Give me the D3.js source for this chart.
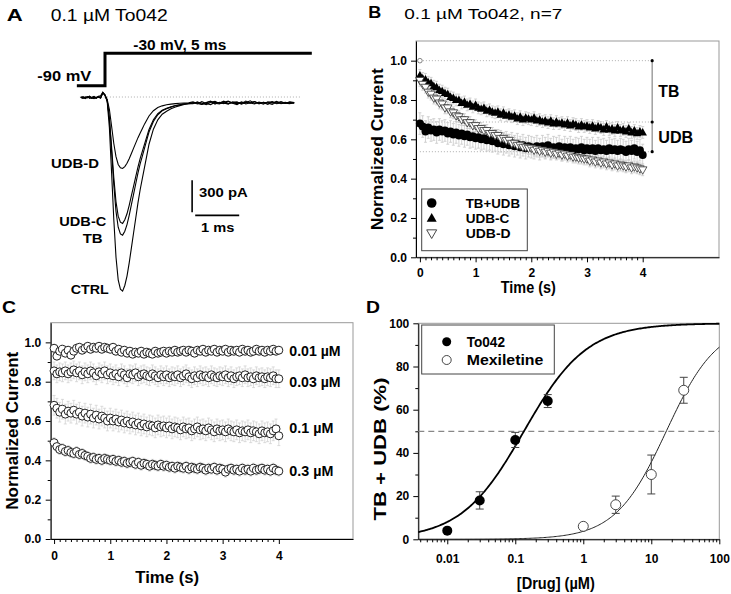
<!DOCTYPE html>
<html><head><meta charset="utf-8">
<script src="https://cdn.jsdelivr.net/npm/d3@7"></script>
<style>body{margin:0;background:#fff} svg{display:block} text{font-family:"Liberation Sans",Arial,sans-serif}</style>
</head><body><svg id="c" width="731" height="594"></svg>
<script>
// ================= DATA =================
// Panel A: current traces (time in ms, current in pA)
const traceTime = [-0.55,-0.5,-0.45,-0.4,-0.35,-0.3,-0.25,-0.2,-0.15,-0.1,-0.05,
 0,0.05,0.1,0.15,0.2,0.25,0.3,0.35,0.4,0.45,0.5,0.55,0.6,0.65,0.7,0.75,0.8,0.85,0.9,0.95,1.0,
 1.1,1.2,1.3,1.4,1.5,1.6,1.7,1.8,1.9,2.0,2.1,2.2,2.3,2.4,2.5,2.6,2.7,2.8,2.9,3.0,3.1,3.2,3.3,3.4,3.5,3.6,3.7,3.8,3.9,4.0,4.1,4.2,4.3];
const traceCTRL = [-8,4,-12,2,-6,-14,0,-10,6,12,45,
 20,-45,-290,-711,-1149,-1502,-1714,-1802,-1820,-1767,-1679,-1555,-1414,-1273,-1132,-990,-867,-761,-655,-549,-443,
 -302,-214,-161,-134,-111,-94,-81,-71,-64,
 -59,-48,-70,-52,-38,-66,-50,-62,-42,-58,-71,-47,-55,-36,-60,-52,-68,-45,-57,-40,-63,-54,-49,-58];
const traceTB = [-4,-12,2,-9,5,-7,-15,-2,3,-6,40,
 18,-35,-211,-511,-824,-1072,-1221,-1283,-1295,-1258,-1196,-1109,-1010,-911,-811,-712,-625,-551,-477,-402,-328,
 -229,-167,-129,-111,-95,-82,-74,-66,-61,
 -52,-65,-44,-60,-71,-49,-57,-39,-62,-54,-46,-68,-51,-59,-43,-64,-50,-56,-70,-47,-55,-61,-45,-53];
const traceUDBC = [2,-10,-5,4,-13,-3,6,-9,-1,-11,38,
 15,-33,-195,-469,-756,-982,-1117,-1174,-1185,-1151,-1095,-1016,-925,-835,-744,-654,-575,-507,-439,-371,-304,
 -213,-157,-123,-106,-91,-80,-72,-65,-61,
 -63,-47,-58,-72,-50,-41,-60,-55,-67,-45,-53,-62,-38,-56,-66,-48,-59,-52,-44,-63,-57,-49,-61,-55];
const traceUDBD = [-6,0,-14,-3,8,-10,-4,-12,1,-7,42,
 17,-22,-117,-274,-436,-559,-633,-664,-670,-652,-621,-578,-529,-479,-430,-381,-338,-295,-252,-215,-178,
 -129,-98,-83,-73,-67,-62,-59,-57,-55,
 -46,-61,-70,-53,-44,-58,-65,-50,-39,-57,-62,-48,-66,-54,-42,-60,-51,-69,-47,-56,-44,-58,-62,-52];
const traceLabels = ["UDB-D","UDB-C","TB","CTRL"];
const protoTime = [-0.64,0,0,4.7];
const protoVolt = [-90,-90,-30,-30];

// Panels B & C: sampling times (s)
const sampleTime = [0,0.05,0.1,0.15,0.2,0.25,0.3,0.35,0.4,0.45,0.5,0.55,0.6,0.65,0.7,0.75,0.8,0.85,0.9,0.95,
 1,1.05,1.1,1.15,1.2,1.25,1.3,1.35,1.4,1.45,1.5,1.55,1.6,1.65,1.7,1.75,1.8,1.85,1.9,1.95,
 2,2.05,2.1,2.15,2.2,2.25,2.3,2.35,2.4,2.45,2.5,2.55,2.6,2.65,2.7,2.75,2.8,2.85,2.9,2.95,
 3,3.05,3.1,3.15,3.2,3.25,3.3,3.35,3.4,3.45,3.5,3.55,3.6,3.65,3.7,3.75,3.8,3.85,3.9,3.95,4];

// Panel B
const bNames = ["TB+UDB","UDB-C","UDB-D"];
const bTBUDB = [0.68,0.665,0.64,0.66,0.645,0.65,0.635,0.65,0.64,0.645,0.63,0.64,0.625,0.635,0.62,0.63,0.615,0.625,0.61,0.615,
 0.605,0.61,0.6,0.605,0.595,0.6,0.59,0.595,0.58,0.59,0.575,0.585,0.57,0.58,0.565,0.575,0.56,0.57,0.555,0.565,
 0.56,0.555,0.565,0.55,0.565,0.555,0.57,0.55,0.56,0.555,0.565,0.545,0.56,0.55,0.56,0.545,0.555,0.55,0.56,0.545,
 0.555,0.545,0.555,0.54,0.555,0.545,0.55,0.54,0.555,0.545,0.55,0.54,0.55,0.545,0.535,0.55,0.54,0.555,0.535,0.545,
 0.52];
const bUDBC = [0.925,0.91,0.905,0.89,0.885,0.87,0.865,0.85,0.845,0.835,0.83,0.815,0.81,0.8,0.8,0.785,0.79,0.775,0.78,0.765,
 0.775,0.76,0.755,0.76,0.745,0.75,0.74,0.735,0.74,0.725,0.735,0.72,0.725,0.715,0.72,0.705,0.715,0.7,0.71,0.705,
 0.7,0.71,0.695,0.7,0.69,0.695,0.685,0.695,0.68,0.69,0.68,0.685,0.675,0.685,0.67,0.68,0.675,0.665,0.675,0.665,
 0.67,0.66,0.67,0.655,0.665,0.66,0.65,0.665,0.65,0.655,0.645,0.66,0.645,0.65,0.64,0.655,0.635,0.645,0.63,0.64,
 0.635];
const bUDBD = [0.9,0.88,0.865,0.84,0.83,0.81,0.805,0.785,0.78,0.76,0.76,0.74,0.735,0.72,0.715,0.7,0.7,0.685,0.685,0.67,
 0.67,0.655,0.655,0.645,0.645,0.63,0.63,0.62,0.62,0.605,0.605,0.595,0.595,0.58,0.58,0.57,0.57,0.56,0.56,0.555,
 0.555,0.545,0.55,0.54,0.545,0.535,0.54,0.53,0.535,0.525,0.53,0.52,0.525,0.515,0.52,0.51,0.51,0.505,0.505,0.5,
 0.5,0.49,0.495,0.485,0.49,0.48,0.485,0.475,0.48,0.47,0.475,0.465,0.47,0.465,0.46,0.465,0.455,0.46,0.455,0.45,
 0.445];
const bErr = [0.055,0.03,0.03];
const bRefLevels = [1.0,0.688,0.537];
const bBracketLabels = ["TB","UDB"];

// Panel C
const cLabels = ["0.01 µM","0.03 µM","0.1 µM","0.3 µM"];
const c001 = [0.97,0.93,0.955,0.965,0.945,0.96,0.935,0.955,0.97,0.975,0.96,0.97,0.98,0.965,0.975,0.97,0.98,0.965,0.975,0.97,
 0.965,0.975,0.955,0.965,0.95,0.96,0.945,0.955,0.94,0.95,0.945,0.955,0.94,0.95,0.945,0.94,0.955,0.945,0.95,0.955,
 0.945,0.955,0.95,0.96,0.95,0.955,0.96,0.95,0.96,0.955,0.945,0.96,0.955,0.965,0.95,0.96,0.955,0.965,0.95,0.96,
 0.955,0.965,0.95,0.96,0.955,0.96,0.95,0.965,0.955,0.96,0.95,0.955,0.965,0.955,0.96,0.95,0.96,0.955,0.965,0.955,
 0.96];
const c003 = [0.855,0.84,0.85,0.845,0.855,0.84,0.85,0.86,0.845,0.855,0.835,0.85,0.84,0.855,0.845,0.83,0.85,0.84,0.855,0.835,
 0.845,0.83,0.84,0.825,0.845,0.835,0.82,0.84,0.835,0.845,0.825,0.835,0.84,0.83,0.825,0.84,0.83,0.82,0.835,0.825,
 0.835,0.82,0.83,0.825,0.835,0.82,0.83,0.84,0.825,0.815,0.83,0.82,0.835,0.825,0.83,0.82,0.835,0.825,0.82,0.83,
 0.825,0.835,0.82,0.83,0.815,0.825,0.83,0.82,0.835,0.82,0.825,0.815,0.83,0.82,0.825,0.815,0.825,0.82,0.83,0.815,
 0.815];
const c01 = [0.68,0.665,0.645,0.66,0.635,0.65,0.64,0.655,0.635,0.645,0.625,0.64,0.62,0.635,0.615,0.63,0.61,0.625,0.615,0.6,
 0.615,0.6,0.61,0.595,0.605,0.59,0.6,0.585,0.595,0.58,0.59,0.575,0.585,0.57,0.58,0.575,0.565,0.58,0.57,0.575,
 0.565,0.575,0.56,0.57,0.565,0.555,0.57,0.56,0.565,0.55,0.56,0.57,0.555,0.56,0.55,0.565,0.555,0.545,0.56,0.55,
 0.555,0.545,0.56,0.55,0.545,0.555,0.54,0.55,0.545,0.555,0.54,0.55,0.545,0.535,0.55,0.54,0.545,0.535,0.55,0.56,
 0.525];
const c03 = [0.49,0.47,0.455,0.46,0.445,0.45,0.44,0.435,0.445,0.43,0.435,0.425,0.42,0.41,0.415,0.405,0.41,0.4,0.41,0.405,
 0.4,0.405,0.395,0.4,0.39,0.395,0.385,0.39,0.395,0.38,0.39,0.375,0.385,0.38,0.37,0.38,0.375,0.37,0.38,0.37,
 0.375,0.365,0.37,0.36,0.37,0.365,0.36,0.37,0.355,0.365,0.36,0.355,0.365,0.36,0.35,0.36,0.355,0.365,0.35,0.36,
 0.355,0.34,0.355,0.36,0.35,0.355,0.345,0.36,0.35,0.355,0.345,0.36,0.35,0.355,0.36,0.35,0.355,0.345,0.36,0.35,
 0.345];
const cErr = [0.02,0.045,0.05,0.025];

// Panel D
const dNames = ["To042","Mexiletine"];
const to042Conc = [0.01,0.03,0.1,0.3];
const to042Val = [4,18,46,64];
const to042Err = [0,4,3.5,3];
const mexConc = [1,3,10,30];
const mexVal = [6,16,30,69];
const mexErr = [0,4,9,6];
const fitIC50 = [0.134,16.6];
const fitHill = [0.94,1.16];
const dXTicks = [0.01,0.1,1,10,100];
const dXTickLabels = ["0.01","0.1","1","10","100"];

// ================= DRAWING =================
const svg = d3.select("#c");
svg.append("rect").attr("width",731).attr("height",594).attr("fill","#fff");

function txt(g, s, x, y, o={}) {
  const t = g.append("text").attr("x",x).attr("y",y).text(s)
    .attr("font-size", o.size||12).attr("font-weight", o.bold?"bold":"normal")
    .attr("text-anchor", o.anchor||"start").attr("fill", o.fill||"#000");
  if (o.family) t.attr("font-family", o.family);
  if (o.len) t.attr("textLength", o.len).attr("lengthAdjust","spacingAndGlyphs");
  if (o.rotate) t.attr("transform", `rotate(${o.rotate},${x},${y})`);
  return t;
}
function styleAxis(g, fs) {
  g.select(".domain").attr("stroke","#000").attr("stroke-width",1);
  g.selectAll(".tick line").attr("stroke","#000").attr("stroke-width",1);
  g.selectAll(".tick text").attr("font-size",fs||12).attr("font-weight","bold")
    .attr("font-family","Liberation Sans, Arial, sans-serif").attr("fill","#000");
}
function triPath(x,y,s,up){
  const h=s*0.866;
  return up ? `M${x},${y-h*0.6}L${x+s/2},${y+h*0.4}L${x-s/2},${y+h*0.4}Z`
            : `M${x},${y+h*0.6}L${x+s/2},${y-h*0.4}L${x-s/2},${y-h*0.4}Z`;
}
function errBars(g, xs, ys, err, xS, yS, color, cap, sw) {
  g.append("g").selectAll("path").data(ys).join("path")
    .attr("d",(v,i)=>{const x=xS(xs[i]), y1=yS(v-err), y2=yS(v+err);
       return `M${x},${y1}V${y2}M${x-cap},${y1}H${x+cap}M${x-cap},${y2}H${x+cap}`;})
    .attr("stroke",color).attr("stroke-width",sw||0.8).attr("fill","none");
}

// ---------- Panel A ----------
const gA = svg.append("g");
txt(gA,"A",6.7,20.5,{size:17,bold:true,len:16});
txt(gA,"0.1 µM To042",50.7,20.7,{size:16,len:117});
const xA = d3.scaleLinear().domain([0,1]).range([105,149]);
const yA = d3.scaleLinear().domain([0,-300]).range([97,129]);
const vA = d3.scaleLinear().domain([-90,-30]).range([85.7,53.3]);
gA.append("path").attr("d", d3.line().x((d,i)=>xA(protoTime[i])).y((d,i)=>vA(protoVolt[i]))(protoTime))
  .attr("fill","none").attr("stroke","#000").attr("stroke-width",3);
txt(gA,"-30 mV, 5 ms",133.3,50,{size:14,bold:true,family:"Liberation Serif, Times New Roman, serif",len:93});
txt(gA,"-90 mV",37.3,81,{size:15,bold:true,family:"Liberation Serif, Times New Roman, serif",len:54});
gA.append("line").attr("x1",xA(-0.57)).attr("x2",xA(4.43)).attr("y1",yA(0)).attr("y2",yA(0))
  .attr("stroke","#999").attr("stroke-width",0.8).attr("stroke-dasharray","1,2");
const lineA = d3.line().x((d,i)=>xA(traceTime[i])).y(d=>yA(d));
[traceCTRL,traceTB,traceUDBC,traceUDBD].forEach(tr=>{
  gA.append("path").attr("d",lineA(tr)).attr("fill","none").attr("stroke","#000").attr("stroke-width",1.1);
});
txt(gA,traceLabels[0],51,167.7,{size:13,bold:true,len:48});
txt(gA,traceLabels[1],59.3,226,{size:13,bold:true,len:47});
txt(gA,traceLabels[2],82.7,243.3,{size:13,bold:true,len:20});
txt(gA,traceLabels[3],70.7,294.3,{size:13,bold:true,len:38});
// scale bars
gA.append("line").attr("x1",xA(1.98)).attr("x2",xA(1.98)).attr("y1",yA(-780)).attr("y2",yA(-1080))
  .attr("stroke","#000").attr("stroke-width",1.6);
gA.append("line").attr("x1",xA(2.05)).attr("x2",xA(3.05)).attr("y1",yA(-1110)).attr("y2",yA(-1110))
  .attr("stroke","#000").attr("stroke-width",1.6);
txt(gA,"300 pA",199,197.3,{size:13,bold:true,len:48.7});
txt(gA,"1 ms",201,232.3,{size:13,bold:true,len:33.3});

// ---------- Panel B ----------
const gB = svg.append("g");
txt(gB,"B",368.3,18.3,{size:17,bold:true,len:13});
txt(gB,"0.1 µM To042, n=7",404.3,19.3,{size:15,len:158});
const xB = d3.scaleLinear().domain([-0.07,5.37]).range([416,719]);
const yB = d3.scaleLinear().domain([0,1.1]).range([257.3,41]);
gB.append("rect").attr("x",416).attr("y",41).attr("width",303).attr("height",216.3)
  .attr("fill","none").attr("stroke","#999").attr("stroke-width",1);
gB.append("g").attr("transform","translate(416,0)").call(d3.axisLeft(yB).tickValues([0.1,0.3,0.5,0.7,0.9]).tickSize(3).tickFormat(""))
  .call(g=>{styleAxis(g);g.select(".domain").remove();});
gB.append("g").attr("transform","translate(0,257.3)").call(d3.axisBottom(xB).tickValues(d3.range(1,40).filter(d=>d%10).map(d=>d/10)).tickSize(3).tickFormat(""))
  .call(g=>{styleAxis(g);g.select(".domain").remove();});
gB.append("g").attr("transform","translate(416,0)").call(d3.axisLeft(yB).tickValues([0,0.2,0.4,0.6,0.8,1.0]).tickSize(5).tickPadding(4).tickFormat(d3.format(".1f")).tickSizeOuter(0))
  .call(g=>styleAxis(g));
gB.append("g").attr("transform","translate(0,257.3)").call(d3.axisBottom(xB).tickValues([0,1,2,3,4]).tickSize(5).tickPadding(6).tickFormat(d3.format("d")).tickSizeOuter(0))
  .call(g=>styleAxis(g));
txt(gB,"Normalized Current",383.3,149.2,{size:17,bold:true,anchor:"middle",rotate:-90,len:162});
txt(gB,"Time (s)",528.3,293,{size:16,bold:true,anchor:"middle",len:55});
const bBracketT = 4.17;
bRefLevels.forEach(v=>{
  gB.append("line").attr("x1",xB(0)).attr("x2",xB(bBracketT)).attr("y1",yB(v)).attr("y2",yB(v))
    .attr("stroke","#999").attr("stroke-width",0.8).attr("stroke-dasharray","1,2");
});
gB.append("line").attr("x1",xB(bBracketT)).attr("x2",xB(bBracketT)).attr("y1",yB(bRefLevels[0])).attr("y2",yB(bRefLevels[2]))
  .attr("stroke","#888").attr("stroke-width",1.2);
bRefLevels.forEach(v=>gB.append("circle").attr("cx",xB(bBracketT)).attr("cy",yB(v)).attr("r",1.6).attr("fill","#000"));
txt(gB,bBracketLabels[0],658.3,97.3,{size:16,bold:true,len:21});
txt(gB,bBracketLabels[1],658.3,142.7,{size:16,bold:true,len:35});
[bTBUDB,bUDBC,bUDBD].forEach((s,k)=>errBars(gB,sampleTime,s,bErr[k],xB,yB,"#c8c8c8",1.5,0.8));
gB.append("circle").attr("cx",xB(0)).attr("cy",yB(1.0)).attr("r",2.3).attr("fill","#fff").attr("stroke","#666").attr("stroke-width",0.8);
gB.append("g").selectAll("circle").data(bTBUDB).join("circle")
  .attr("cx",(d,i)=>xB(sampleTime[i])).attr("cy",d=>yB(d)).attr("r",4).attr("fill","#000");
gB.append("g").selectAll("path").data(bUDBC).join("path")
  .attr("d",(d,i)=>triPath(xB(sampleTime[i]),yB(d),8.5,true)).attr("fill","#000");
gB.append("g").selectAll("path").data(bUDBD).join("path")
  .attr("d",(d,i)=>triPath(xB(sampleTime[i]),yB(d),8.5,false)).attr("fill","#fff").attr("stroke","#333").attr("stroke-width",0.8);
gB.append("rect").attr("x",421.7).attr("y",189).attr("width",105.6).attr("height",61.7).attr("fill","#fff").attr("stroke","#444").attr("stroke-width",1);
gB.append("circle").attr("cx",431.7).attr("cy",203).attr("r",4.8).attr("fill","#000");
gB.append("path").attr("d",triPath(431.7,218.3,10,true)).attr("fill","#000");
gB.append("path").attr("d",triPath(431.7,233.3,10,false)).attr("fill","#fff").attr("stroke","#333").attr("stroke-width",0.9);
txt(gB,bNames[0],465.7,207.5,{size:12.5,bold:true,len:54.3});
txt(gB,bNames[1],465.7,222.8,{size:12.5,bold:true,len:43.7});
txt(gB,bNames[2],465.7,237.8,{size:12.5,bold:true,len:45});

// ---------- Panel C ----------
const gC = svg.append("g");
txt(gC,"C",2,312.5,{size:17,bold:true,len:14});
const xC = d3.scaleLinear().domain([-0.06,5.32]).range([50.7,353]);
const yC = d3.scaleLinear().domain([0,1.1]).range([539,322.7]);
gC.append("rect").attr("x",50.7).attr("y",322.7).attr("width",302.3).attr("height",216.3)
  .attr("fill","none").attr("stroke","#999").attr("stroke-width",1);
gC.append("g").attr("transform","translate(50.7,0)").call(d3.axisLeft(yC).tickValues([0.1,0.3,0.5,0.7,0.9]).tickSize(3).tickFormat(""))
  .call(g=>{styleAxis(g);g.select(".domain").remove();});
gC.append("g").attr("transform","translate(0,539)").call(d3.axisBottom(xC).tickValues(d3.range(1,40).filter(d=>d%10).map(d=>d/10)).tickSize(3).tickFormat(""))
  .call(g=>{styleAxis(g);g.select(".domain").remove();});
gC.append("g").attr("transform","translate(50.7,0)").call(d3.axisLeft(yC).tickValues([0,0.2,0.4,0.6,0.8,1.0]).tickSize(5).tickPadding(4.5).tickFormat(d3.format(".1f")).tickSizeOuter(0))
  .call(g=>styleAxis(g));
gC.append("g").attr("transform","translate(0,539)").call(d3.axisBottom(xC).tickValues([0,1,2,3,4]).tickSize(5).tickPadding(7.5).tickFormat(d3.format("d")).tickSizeOuter(0))
  .call(g=>styleAxis(g));
txt(gC,"Normalized Current",18.3,430.8,{size:17,bold:true,anchor:"middle",rotate:-90,len:158});
txt(gC,"Time (s)",167.2,583,{size:17,bold:true,anchor:"middle",len:64});
const cSeries = [c001,c003,c01,c03];
cSeries.forEach((s,k)=>errBars(gC,sampleTime,s,cErr[k],xC,yC,"#d2d2d2",1.5,0.8));
cSeries.forEach(s=>{
  gC.append("g").selectAll("circle").data(s).join("circle")
    .attr("cx",(d,i)=>xC(sampleTime[i])).attr("cy",d=>yC(d)).attr("r",4)
    .attr("fill","#fff").attr("stroke","#222").attr("stroke-width",1);
});
txt(gC,cLabels[0],289.3,356,{size:14,bold:true,len:51.3});
txt(gC,cLabels[1],289.3,387.3,{size:14,bold:true,len:51.3});
txt(gC,cLabels[2],289.3,433.3,{size:14,bold:true,len:44});
txt(gC,cLabels[3],289.3,476,{size:14,bold:true,len:44});

// ---------- Panel D ----------
const gD = svg.append("g");
txt(gD,"D",366,313,{size:17,bold:true,len:14});
const xD = d3.scaleLog().domain([0.00375,100]).range([418.3,719.3]);
const yD = d3.scaleLinear().domain([0,100]).range([539.3,323.3]);
gD.append("rect").attr("x",418.3).attr("y",323.3).attr("width",301).attr("height",216)
  .attr("fill","none").attr("stroke","#999").attr("stroke-width",1);
const minorD = [];
[0.001,0.01,0.1,1,10].forEach(dec=>{for(let m=2;m<=9;m++){const v=dec*m; if(v>=0.00375&&v<100) minorD.push(v);}});
gD.append("g").attr("transform","translate(0,539.3)").call(d3.axisBottom(xD).tickValues(minorD).tickSize(3).tickFormat(""))
  .call(g=>{styleAxis(g);g.select(".domain").remove();});
gD.append("g").attr("transform","translate(418.3,0)").call(d3.axisLeft(yD).tickValues([10,30,50,70,90]).tickSize(3).tickFormat(""))
  .call(g=>{styleAxis(g);g.select(".domain").remove();});
gD.append("g").attr("transform","translate(0,539.3)").call(d3.axisBottom(xD).tickValues(dXTicks).tickSize(5).tickPadding(10.5).tickFormat((d,i)=>dXTickLabels[i]).tickSizeOuter(0))
  .call(g=>styleAxis(g));
gD.append("g").attr("transform","translate(418.3,0)").call(d3.axisLeft(yD).tickValues([0,20,40,60,80,100]).tickSize(5).tickPadding(4).tickSizeOuter(0))
  .call(g=>styleAxis(g));
txt(gD,"TB + UDB (%)",386,449,{size:17,bold:true,anchor:"middle",rotate:-90,len:143});
txt(gD,"[Drug] (µM)",555.8,589,{size:16,bold:true,anchor:"middle",len:78});
gD.append("line").attr("x1",418.3).attr("x2",719.3).attr("y1",yD(50)).attr("y2",yD(50))
  .attr("stroke","#888").attr("stroke-width",1.2).attr("stroke-dasharray","6,4");
const fitConc = d3.range(0,241).map(i=>Math.pow(10,Math.log10(0.00375)+i*(Math.log10(100)-Math.log10(0.00375))/240));
const hill = (c,k)=>100/(1+Math.pow(fitIC50[k]/c,fitHill[k]));
const fitLine = k => d3.line().x(c=>xD(c)).y(c=>yD(hill(c,k)))(fitConc);
gD.append("path").attr("d",fitLine(0)).attr("fill","none").attr("stroke","#000").attr("stroke-width",1.8);
gD.append("path").attr("d",fitLine(1)).attr("fill","none").attr("stroke","#222").attr("stroke-width",1);
function dErr(conc,val,err){
  gD.append("g").selectAll("path").data(val).join("path")
    .attr("d",(v,i)=>{if(!err[i])return "";const x=xD(conc[i]),y1=yD(v-err[i]),y2=yD(v+err[i]);
       return `M${x},${y1}V${y2}M${x-4},${y1}H${x+4}M${x-4},${y2}H${x+4}`;})
    .attr("stroke","#444").attr("stroke-width",1).attr("fill","none");
}
dErr(to042Conc,to042Val,to042Err);
dErr(mexConc,mexVal,mexErr);
gD.append("g").selectAll("circle").data(to042Val).join("circle")
  .attr("cx",(d,i)=>xD(to042Conc[i])).attr("cy",d=>yD(d)).attr("r",5).attr("fill","#000");
gD.append("g").selectAll("circle").data(mexVal).join("circle")
  .attr("cx",(d,i)=>xD(mexConc[i])).attr("cy",d=>yD(d)).attr("r",5).attr("fill","#fff").attr("stroke","#333").attr("stroke-width",0.9);
gD.append("rect").attr("x",421.7).attr("y",325).attr("width",132.6).attr("height",49).attr("fill","#fff").attr("stroke","#444").attr("stroke-width",1);
gD.append("circle").attr("cx",446.7).attr("cy",341.7).attr("r",4.5).attr("fill","#000");
gD.append("circle").attr("cx",446.7).attr("cy",360).attr("r",4.5).attr("fill","#fff").attr("stroke","#333").attr("stroke-width",0.9);
txt(gD,dNames[0],466.7,346.7,{size:14,bold:true,len:38.3});
txt(gD,dNames[1],466.7,365,{size:14,bold:true,len:76.7});
</script></body></html>
